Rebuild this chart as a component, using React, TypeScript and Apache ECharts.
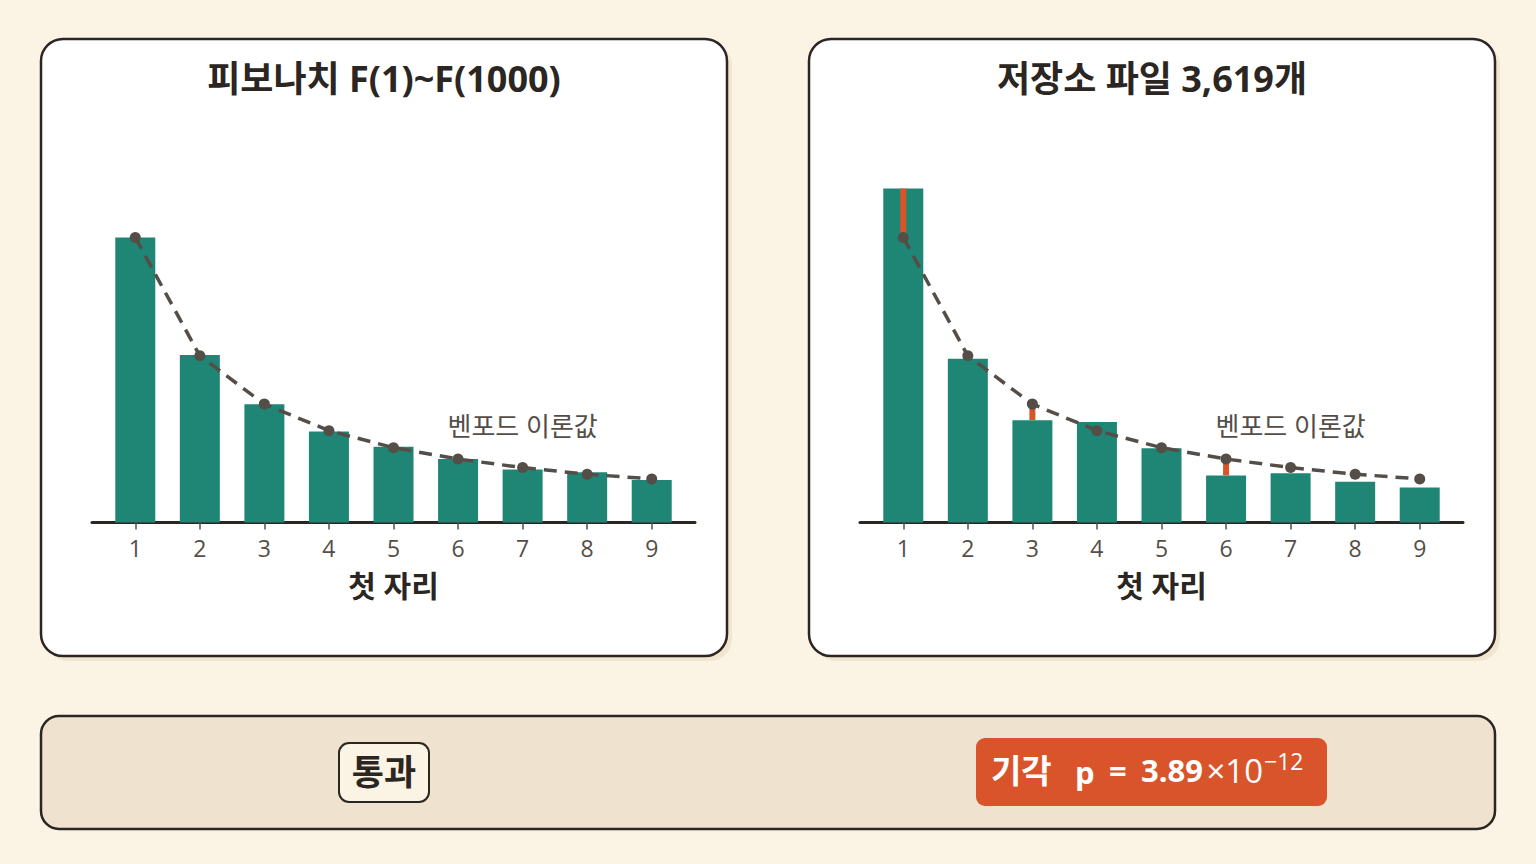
import { useEffect, useRef } from 'react';
import * as echarts from 'echarts';

const DIGITS = ['1', '2', '3', '4', '5', '6', '7', '8', '9'];
// Benford expected share of each first digit
const BENFORD = [0.301, 0.176, 0.125, 0.097, 0.079, 0.067, 0.058, 0.051, 0.046];
// first-digit counts, F(1)..F(1000)
const FIB_COUNTS = [301, 177, 125, 96, 80, 67, 56, 53, 45];
// first-digit counts of file sizes in the repo (3,619 files)
const REPO_COUNTS = [1276, 626, 391, 384, 284, 180, 188, 156, 134];
// digits whose deviation is marked in orange
const REPO_FLAGGED = ['1', '3', '6'];
const FIB_FLAGGED: string[] = [];

const LEFT_TITLE = '피보나치 F(1)~F(1000)';
const RIGHT_TITLE = '저장소 파일 3,619개';
const AXIS_NAME = '첫 자리';
const BENFORD_LABEL = '벤포드 이론값';
const PASS_LABEL = '통과';

const FONT = '"Open Sans", "Noto Sans CJK KR", sans-serif';
const BG = '#fbf3e4';
const INK = '#2b2622';
const GREY = '#554e48';
const TEAL = '#1f8676';
const ORANGE = '#d9542b';

const share = (counts: number[]) => {
  const total = counts.reduce((a, b) => a + b, 0);
  return counts.map((c) => c / total);
};

export default function App() {
  const ref = useRef<HTMLDivElement>(null);

  useEffect(() => {
    document.body.style.margin = '0';
    document.body.style.background = BG;
    if (!ref.current) return;
    const chart = echarts.init(ref.current, undefined, { renderer: 'svg' });

    const plotTop = 143.7;
    const plotH = 378.8;
    const panels = [
      { left: 103, lineLeft: 92, counts: FIB_COUNTS, flagged: FIB_FLAGGED },
      { left: 871, lineLeft: 860, counts: REPO_COUNTS, flagged: REPO_FLAGGED },
    ];

    const grid: any[] = [];
    const xAxis: any[] = [];
    const yAxis: any[] = [];
    const series: any[] = [];

    panels.forEach((p, k) => {
      const g = k * 2;
      // bar grid
      grid.push({ left: p.left, width: 581, top: plotTop, height: plotH });
      // wider grid that only carries the baseline
      grid.push({ left: p.lineLeft, width: 603, top: plotTop, height: plotH });

      xAxis.push({
        type: 'category',
        gridIndex: g,
        data: DIGITS,
        boundaryGap: true,
        axisLine: { show: false },
        axisTick: { show: true, alignWithLabel: true, length: 7, lineStyle: { color: GREY, width: 1.5 } },
        axisLabel: { color: GREY, fontSize: 23, fontFamily: FONT, margin: 14 },
        splitLine: { show: false },
      });
      xAxis.push({
        type: 'value',
        gridIndex: g + 1,
        min: 0,
        max: 1,
        axisLine: { show: true, onZero: false, lineStyle: { color: INK, width: 3 } },
        axisTick: { show: false },
        axisLabel: { show: false },
        splitLine: { show: false },
        name: AXIS_NAME,
        nameLocation: 'middle',
        nameGap: 48,
        nameTextStyle: { color: INK, fontSize: 30, fontWeight: 'bold', fontFamily: FONT },
      });
      yAxis.push({ type: 'value', gridIndex: g, min: 0, max: 0.4, show: false });
      yAxis.push({ type: 'value', gridIndex: g + 1, min: 0, max: 0.4, show: false });

      const obs = share(p.counts);

      series.push({
        type: 'bar',
        xAxisIndex: g,
        yAxisIndex: g,
        data: obs,
        barWidth: 40,
        itemStyle: { color: TEAL },
        z: 2,
      });
      series.push({
        type: 'custom',
        xAxisIndex: g,
        yAxisIndex: g,
        z: 3,
        data: p.flagged.map((d) => {
          const i = DIGITS.indexOf(d);
          return [i, obs[i], BENFORD[i]];
        }),
        encode: { x: 0, y: [1, 2] },
        renderItem: (_params: any, api: any) => {
          const a = api.coord([api.value(0), api.value(1)]);
          const b = api.coord([api.value(0), api.value(2)]);
          return {
            type: 'line',
            shape: { x1: a[0], y1: a[1], x2: b[0], y2: b[1] },
            style: { stroke: ORANGE, lineWidth: 6 },
          };
        },
      });
      series.push({
        type: 'line',
        xAxisIndex: g,
        yAxisIndex: g,
        z: 4,
        data: BENFORD,
        symbol: 'circle',
        symbolSize: 11,
        itemStyle: { color: GREY },
        lineStyle: { color: GREY, width: 3.5, type: [13, 8] },
        markPoint: {
          symbol: 'circle',
          symbolSize: 1,
          itemStyle: { color: 'rgba(0,0,0,0)' },
          label: {
            show: true,
            position: 'inside',
            formatter: BENFORD_LABEL,
            color: GREY,
            fontSize: 26,
            fontFamily: FONT,
          },
          data: [{ coord: ['7', 0.102] }],
        },
      });
    });

    const panelRect = (x: number) => [
      {
        type: 'rect',
        shape: { x: x + 5, y: 44, width: 686, height: 617, r: 22 },
        style: { fill: '#f1e5cf' },
        z: -10,
      },
      {
        type: 'rect',
        shape: { x, y: 39, width: 686, height: 617, r: 22 },
        style: { fill: '#ffffff', stroke: INK, lineWidth: 2.5 },
        z: -9,
      },
    ];

    const txt = (x: number, y: number, text: string, font: string, fill: string, align = 'left') => ({
      type: 'text',
      x,
      y,
      style: { text, fill, font, textAlign: align, textVerticalAlign: 'middle' },
    });

    const graphic: any[] = [
      ...panelRect(41),
      ...panelRect(809),
      txt(384, 78, LEFT_TITLE, `bold 36px ${FONT}`, INK, 'center'),
      txt(1152, 78, RIGHT_TITLE, `bold 36px ${FONT}`, INK, 'center'),
      {
        type: 'rect',
        shape: { x: 41, y: 716, width: 1454, height: 113, r: 18 },
        style: { fill: '#efe3cf', stroke: INK, lineWidth: 2.5 },
        z: -9,
      },
      {
        type: 'rect',
        shape: { x: 339, y: 743, width: 90, height: 59, r: 10 },
        style: { fill: BG, stroke: INK, lineWidth: 2 },
      },
      txt(384, 771, PASS_LABEL, `bold 35px ${FONT}`, INK, 'center'),
      {
        type: 'rect',
        shape: { x: 976, y: 738, width: 351, height: 68, r: 9 },
        style: { fill: ORANGE },
      },
      txt(991, 770, '기각', `bold 33px ${FONT}`, '#ffffff'),
      txt(1075, 772, 'p', `bold 31px ${FONT}`, '#ffffff'),
      txt(1109, 770, '=', `bold 31px ${FONT}`, '#ffffff'),
      txt(1141, 770, '3.89', `bold 31px ${FONT}`, '#ffffff'),
      txt(1263, 770, '×10', `33px ${FONT}`, '#ffffff', 'right'),
      txt(1264, 761, '−12', `23px ${FONT}`, '#ffffff'),
    ];

    chart.setOption({
      animation: false,
      backgroundColor: BG,
      grid,
      xAxis,
      yAxis,
      series,
      graphic,
    });

    return () => chart.dispose();
  }, []);

  return <div ref={ref} style={{ width: 1536, height: 864 }} />;
}
